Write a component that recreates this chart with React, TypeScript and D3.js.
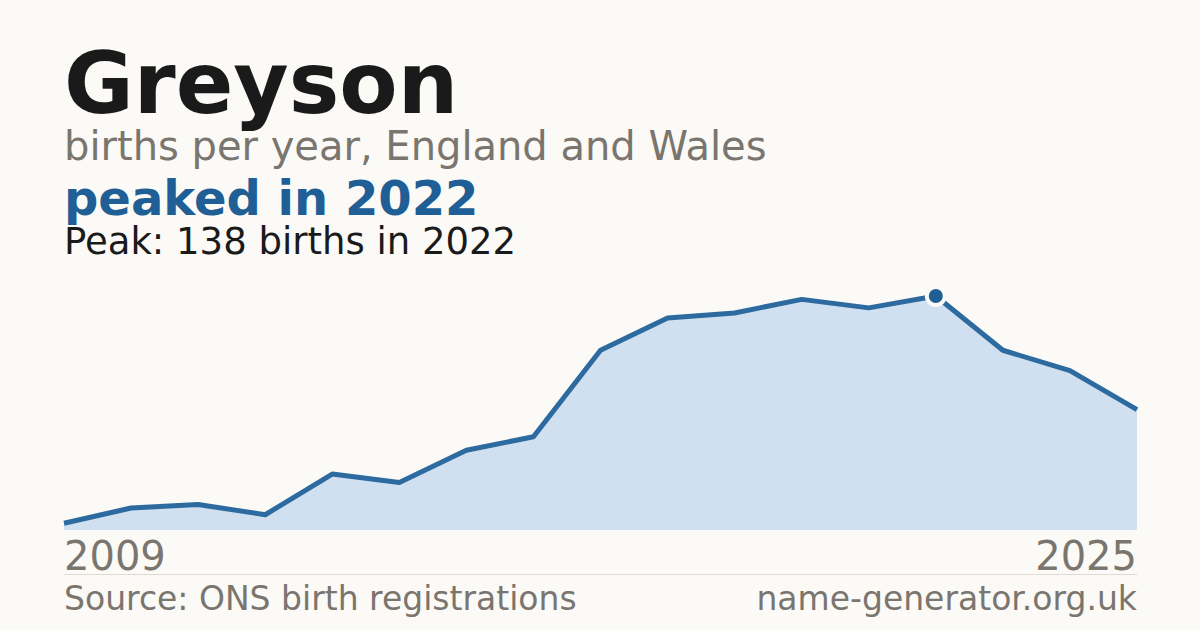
import React from "react";
import * as d3 from "d3";

const years = [2009, 2010, 2011, 2012, 2013, 2014, 2015, 2016, 2017, 2018, 2019, 2020, 2021, 2022, 2023, 2024, 2025];
const births = [4, 13, 15, 9, 33, 28, 47, 55, 106, 125, 128, 136, 131, 138, 106, 94, 71];

const W = 1200;
const H = 630;
const left = 64;
const right = 1137;
const baseY = 530;
const topY = 296;

const App: React.FC = () => {
  const x = d3.scaleLinear().domain([years[0], years[years.length - 1]]).range([left, right]);
  const y = d3.scaleLinear().domain([0, d3.max(births)!]).range([baseY, topY]);

  const pts = years.map((yr, i) => ({ yr, v: births[i] }));
  const area = d3
    .area<{ yr: number; v: number }>()
    .x((d) => x(d.yr))
    .y0(baseY)
    .y1((d) => y(d.v));
  const line = d3
    .line<{ yr: number; v: number }>()
    .x((d) => x(d.yr))
    .y((d) => y(d.v));

  const peakIdx = births.indexOf(d3.max(births)!);
  const font = "'DejaVu Sans', sans-serif";

  return (
    <svg width={W} height={H} style={{ position: "absolute", left: 0, top: 0 }} fontFamily={font}>
      <rect width={W} height={H} fill="#fbfaf6" />
      <text x={64} y={113} fontSize={85} fontWeight="bold" fill="#1a1a1a">Greyson</text>
      <text x={64} y={160} fontSize={40} fill="#7a756e">births per year, England and Wales</text>
      <text x={64} y={215} fontSize={48} fontWeight="bold" fill="#1f5f96">peaked in 2022</text>
      <text x={64} y={254} fontSize={37} fill="#1a1a1a">Peak: 138 births in 2022</text>

      <path d={area(pts)!} fill="#d0e0f0" />
      <path d={line(pts)!} fill="none" stroke="#2d6a9f" strokeWidth={5} strokeLinejoin="round" />
      <circle cx={x(years[peakIdx])} cy={y(births[peakIdx])} r={9} fill="#1f5f96" stroke="#fbfaf6" strokeWidth={4} />

      <text x={64} y={570} fontSize={40} fill="#7a756e">{years[0]}</text>
      <text x={right} y={570} fontSize={40} fill="#7a756e" textAnchor="end">{years[years.length - 1]}</text>
      <line x1={left} x2={right} y1={574.5} y2={574.5} stroke="#dedad2" strokeWidth={1} />
      <text x={64} y={610} fontSize={33} fill="#7a756e">Source: ONS birth registrations</text>
      <text x={right} y={610} fontSize={33} fill="#7a756e" textAnchor="end">name-generator.org.uk</text>
    </svg>
  );
};

export default App;
